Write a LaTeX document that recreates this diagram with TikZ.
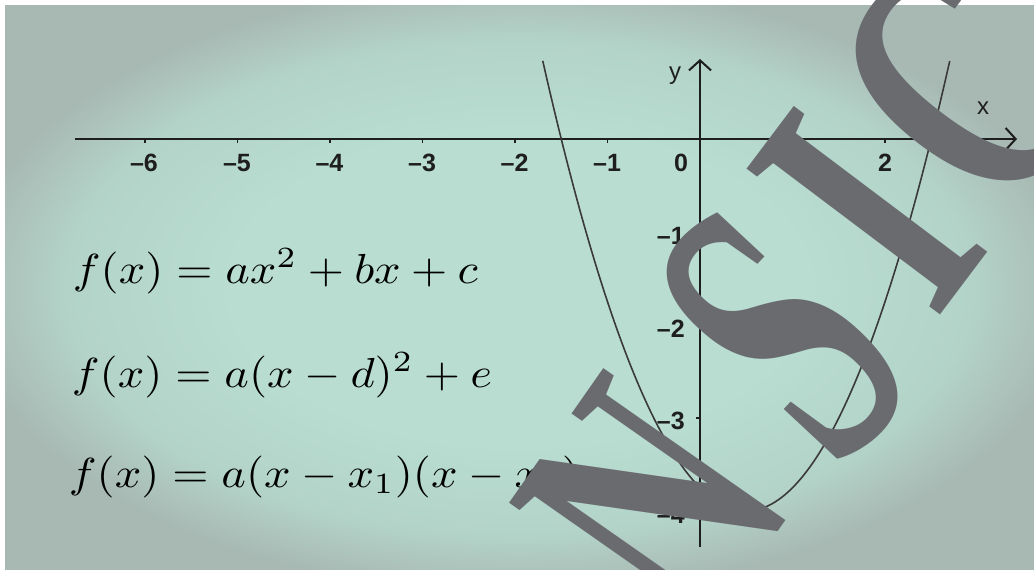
\documentclass[tikz,border=0pt]{standalone}
\usepackage{fontspec}
\usepackage{graphicx}
\usetikzlibrary{arrows.meta}
\newfontfamily\wmfont{Liberation Serif}
\newfontfamily\lblfont{Liberation Sans}
\definecolor{bgin}{HTML}{B9DDD1}
\definecolor{bgmid}{HTML}{B3D3C8}
\definecolor{bgout}{HTML}{A8B9B3}
\definecolor{axiscol}{HTML}{1E1E1E}
\definecolor{curvecol}{HTML}{3A3A3A}
\definecolor{wmgray}{HTML}{6A6B6F}
\pgfdeclareradialshading{vign}{\pgfpoint{0bp}{0bp}}{color(0bp)=(bgin); color(14bp)=(bgin); color(22bp)=(bgmid); color(27bp)=(bgout); color(40bp)=(bgout)}
\tikzset{
  axisline/.style={draw=axiscol, line width=2pt, -{Straight Barb[length=10pt,width=22pt,line width=2pt]}},
  tickmark/.style={draw=axiscol, line width=1.2pt},
  curve/.style={draw=curvecol, line width=1.6pt},
  xlbl/.style={text=axiscol, inner sep=0pt, font=\lblfont\bfseries\fontsize{25}{25}\selectfont},
  axname/.style={text=axiscol, inner sep=0pt, font=\lblfont\fontsize{24}{24}\selectfont},
  formula/.style={anchor=base west, inner sep=0pt, text=black, xscale=4.65, yscale=4.2},
  wm/.style={anchor=base, inner sep=0pt, text=wmgray, font=\wmfont\bfseries\fontsize{#1}{#1}\selectfont},
  wm/.default=361
}
\newcommand{\wmletter}[2][0.66]{\scalebox{#1}[1]{#2}}
\begin{document}
\begin{tikzpicture}[x=1pt,y=-1pt]
\useasboundingbox (0,0) rectangle (1034,570);
\clip (0,0) rectangle (1034,570);
\fill[white] (0,0) rectangle (1034,570);
\shade[shading=vign] (5,5) rectangle (1034,570);

% axes
\coordinate (xs) at (75,139);
\coordinate (xe) at (1017,139);
\coordinate (ys) at (700,547);
\coordinate (ye) at (700,59);
\draw[axisline] (xs) -- (xe);
\draw[axisline] (ys) -- (ye);

% x ticks and labels
\foreach \i/\nm in {-6/m6,-5/m5,-4/m4,-3/m3,-2/m2,-1/m1,2/p2}{
  \coordinate (tx\nm) at ({700+92.5*\i},139);
  \draw[tickmark] (tx\nm) -- ++(0,4);
}
\node[xlbl] (lxm6) at (144,163) {–6};
\node[xlbl] (lxm5) at (237,163) {–5};
\node[xlbl] (lxm4) at (329.5,163) {–4};
\node[xlbl] (lxm3) at (422,163) {–3};
\node[xlbl] (lxm2) at (514.5,163) {–2};
\node[xlbl] (lxm1) at (607,163) {–1};
\node[xlbl] (lx0) at (681,163) {0};
\node[xlbl] (lxp2) at (885,163) {2};

% y ticks and labels
\foreach \j/\nm in {1/m1,2/m2,3/m3,4/m4}{
  \coordinate (ty\nm) at (700,{139+93*\j});
  \draw[tickmark] (ty\nm) -- ++(-4,0);
}
\node[xlbl,anchor=east] (lym1) at (685,236) {–1};
\node[xlbl,anchor=east] (lym2) at (685,329) {–2};
\node[xlbl,anchor=east] (lym3) at (685,421) {–3};
\node[xlbl,anchor=east] (lym4) at (685,515) {–4};

\node[axname] (lx) at (983,108) {x};
\node[axname] (ly) at (675,76) {y};

% parabola
\draw[curve] plot[domain=-1.7:2.7, samples=120] ({700+92.5*\x}, {139-93*(\x*\x-\x-3.75)});

% formulas
\node[formula] (f1) at (72,283) {$f(x)=ax^2+bx+c$};
\node[formula] (f2) at (71,387) {$f(x)=a(x-d)^2+e$};
\node[formula] (f3) at (68,487) {$f(x)=a(x-x_1)(x-x_2)$};

% watermark letters
\node[wm, rotate=55] (wmN) at (750,572) {\wmletter{N}};
\node[wm=415, rotate=47] (wmS) at (881,427) {\wmletter[0.57]{S}};
\node[wm=370, rotate=53] (wmI) at (964,284) {\wmletter{I}};
\node[wm, rotate=53] (wmC) at (1058,156) {\wmletter{C}};
\end{tikzpicture}
\end{document}
